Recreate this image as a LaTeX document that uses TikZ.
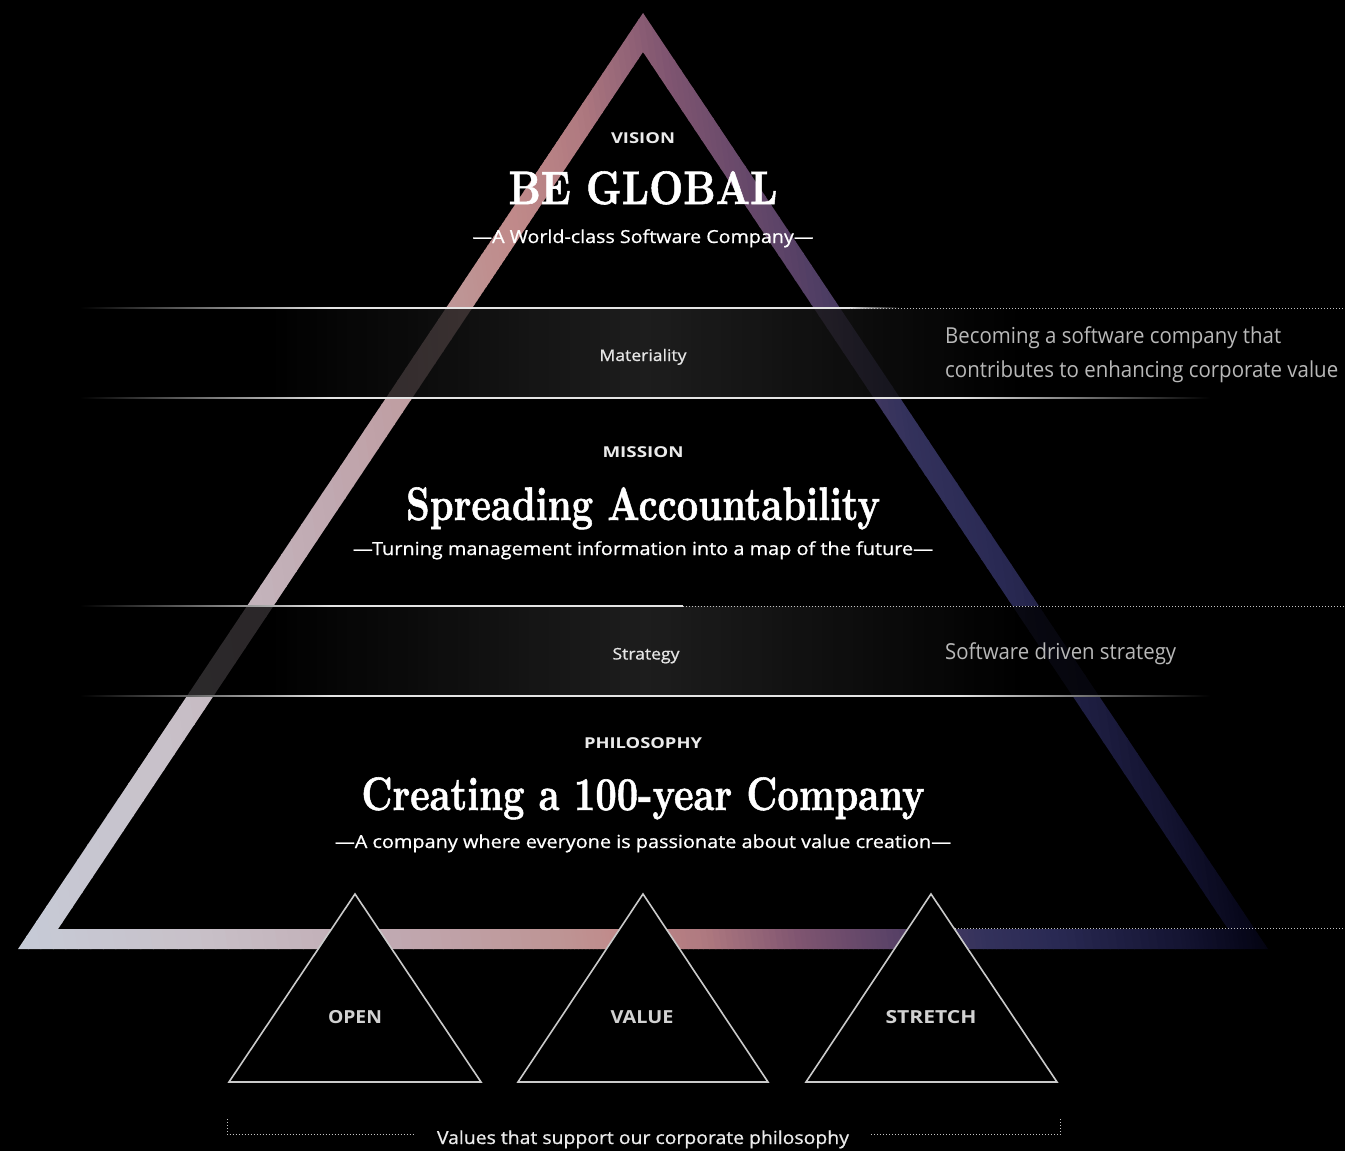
\documentclass[tikz,border=0pt]{standalone}
\usepackage{fontspec}
\newfontfamily\osans{Open Sans}
\newfontfamily\osanssb{Open Sans}[FakeBold=0.7]
\newfontfamily\titlefont{lmroman10-bold.otf}[FakeBold=1.2]
\newcommand{\fitw}[2]{\resizebox{#1}{\height}{#2}}
\definecolor{g0}{HTML}{C6CCD8}
\definecolor{g1}{HTML}{C8C0C8}
\definecolor{g2}{HTML}{C0A8B0}
\definecolor{g3}{HTML}{BE9494}
\definecolor{g4}{HTML}{C08A8A}
\definecolor{g5}{HTML}{B07A80}
\definecolor{g6}{HTML}{7E5470}
\definecolor{g7}{HTML}{5E4468}
\definecolor{g8}{HTML}{34325C}
\definecolor{g9}{HTML}{2A2A54}
\definecolor{g10}{HTML}{141432}
\definecolor{g11}{HTML}{060618}
\definecolor{g12}{HTML}{000000}
\definecolor{glowc}{HTML}{262626}
\definecolor{linec}{HTML}{E4E4E4}
\definecolor{dotc}{HTML}{C4C4C4}
\definecolor{tric}{HTML}{CACACA}
\definecolor{descc}{HTML}{B8B8B8}
\definecolor{vallabc}{HTML}{D2D2D2}
\pgfdeclarehorizontalshading{bandglow}{100bp}{color(0bp)=(black); color(33bp)=(black); color(50bp)=(glowc); color(67bp)=(black); color(100bp)=(black)}
\begin{document}
\begin{tikzpicture}[x=1pt,y=-1pt,
  titlef/.style={font=\titlefont\fontsize{47}{47}\selectfont, text=white, inner sep=0pt, anchor=base},
  caplab/.style={font=\osans\bfseries\fontsize{15}{15}\selectfont, text=white!92!black, inner sep=0pt, anchor=base},
  subt/.style={font=\osanssb\fontsize{18}{18}\selectfont, text=white, inner sep=0pt, anchor=base},
  bandlab/.style={font=\osanssb\fontsize{16}{16}\selectfont, text=white!90!black, inner sep=0pt, anchor=base},
  desc/.style={font=\osans\fontsize{22}{22}\selectfont, text=descc, inner sep=0pt, anchor=base west},
  vallab/.style={font=\osans\bfseries\fontsize{18}{18}\selectfont, text=vallabc, inner sep=0pt, anchor=base},
  caption/.style={font=\osanssb\fontsize{18}{18}\selectfont, text=white!92!black, inner sep=0pt, anchor=base},
  dotline/.style={draw=dotc, line width=1pt, dash pattern=on 1pt off 2pt},
  smalltri/.style={fill=black, draw=tric, line width=1.6pt, line join=miter},
  bandfill/.style={shading=bandglow, fill opacity=0.78},
  solidline/.style={fill=linec},
  fadein/.style={left color=black, right color=linec},
  fadeout/.style={left color=linec, right color=black}
]
\useasboundingbox (0,0) rectangle (1345,1151);
\fill[black] (0,0) rectangle (1345,1151);

% big gradient triangle ring (inner path wound the other way)
\begin{scope}
\clip (643,13) -- (18,949) -- (1268,949) -- cycle
      (643,52) -- (1228,929) -- (58,929) -- cycle;
\foreach \ta/\tb/\ca/\cb in {-140/60/g0/g1, 60/260/g1/g2, 260/420/g2/g3, 420/480/g3/g4, 480/560/g4/g5, 560/660/g5/g6, 660/740/g6/g7, 740/840/g7/g8, 840/910/g8/g9, 910/1040/g9/g10, 1040/1110/g10/g11, 1110/1160/g11/g12}{
  \foreach \i in {0,...,15}{
    \pgfmathsetmacro\xa{\ta+(\tb-(\ta))*\i/16}
    \pgfmathsetmacro\xb{\ta+(\tb-(\ta))*(\i+1)/16+1}
    \pgfmathtruncatemacro\pc{100*(\i+0.5)/16}
    \fill[\cb!\pc!\ca] (\xa,0) -- (\xb,0) -- (\xb+146,970) -- (\xa+146,970) -- cycle;
  }
}
\end{scope}

% bands
\shade[bandfill] (80,308) rectangle (1210,398);
\shade[bandfill] (80,606) rectangle (1210,696);

% band border lines
\shade[fadein] (80,307.4) rectangle (330,308.6);
\fill[solidline] (330,307.4) rectangle (850,308.6);
\shade[fadeout] (850,307.4) rectangle (900,308.6);
\draw[dotline] (850,308) -- (1345,308);
\shade[fadein] (80,605.4) rectangle (330,606.6);
\fill[solidline] (330,605.4) rectangle (683,606.6);
\draw[dotline] (683,606) -- (1345,606);
\foreach \yy in {398,696}{
  \shade[fadein] (80,\yy-0.6) rectangle (330,\yy+0.6);
  \fill[solidline] (330,\yy-0.6) rectangle (960,\yy+0.6);
  \shade[fadeout] (960,\yy-0.6) rectangle (1210,\yy+0.6);
}
\draw[dotline] (931,928.5) -- (1345,928.5);

% value triangles
\draw[smalltri] (355,894) -- (229,1082) -- (481,1082) -- cycle;
\draw[smalltri] (643,894) -- (518,1082) -- (768,1082) -- cycle;
\draw[smalltri] (931,894) -- (806,1082) -- (1057,1082) -- cycle;

% texts
\node[caplab] (vision) at (643,143) {\fitw{64pt}{VISION}};
\node[titlef] (beglobal) at (643,204) {\fitw{269pt}{BE GLOBAL}};
\node[subt] (vsub) at (643,243) {\fitw{341pt}{—A World-class Software Company—}};
\node[bandlab] (mat) at (643,361) {\fitw{87pt}{Materiality}};
\node[desc] (matd1) at (945,343) {\fitw{336pt}{Becoming a software company that}};
\node[desc] (matd2) at (945,377.5) {\fitw{393pt}{contributes to enhancing corporate value}};
\node[caplab] (mission) at (643,457) {\fitw{81pt}{MISSION}};
\node[titlef] (spread) at (643,520) {\fitw{474pt}{Spreading Accountability}};
\node[subt] (msub) at (643,555) {\fitw{580pt}{—Turning management information into a map of the future—}};
\node[bandlab] (strat) at (646,659.5) {\fitw{67pt}{Strategy}};
\node[desc] (stratd) at (945,659) {\fitw{231pt}{Software driven strategy}};
\node[caplab] (philo) at (643,748) {\fitw{118pt}{PHILOSOPHY}};
\node[titlef] (create) at (643,810) {\fitw{563pt}{Creating a 100-year Company}};
\node[subt] (psub) at (643,848) {\fitw{616pt}{—A company where everyone is passionate about value creation—}};
\node[vallab] (open) at (355,1023) {\fitw{54pt}{OPEN}};
\node[vallab] (value) at (642,1023) {\fitw{63pt}{VALUE}};
\node[vallab] (stretch) at (931,1023) {\fitw{91pt}{STRETCH}};
\node[caption] (cap) at (643,1144) {\fitw{412pt}{Values that support our corporate philosophy}};

% bracket
\coordinate (bl1) at (227,1119);
\coordinate (bl2) at (227,1134.5);
\coordinate (bl3) at (414,1134.5);
\coordinate (br1) at (1060,1119);
\coordinate (br2) at (1060,1134.5);
\coordinate (br3) at (871,1134.5);
\draw[dotline] (bl1) -- (bl2) -- (bl3);
\draw[dotline] (br1) -- (br2) -- (br3);
\end{tikzpicture}
\end{document}
